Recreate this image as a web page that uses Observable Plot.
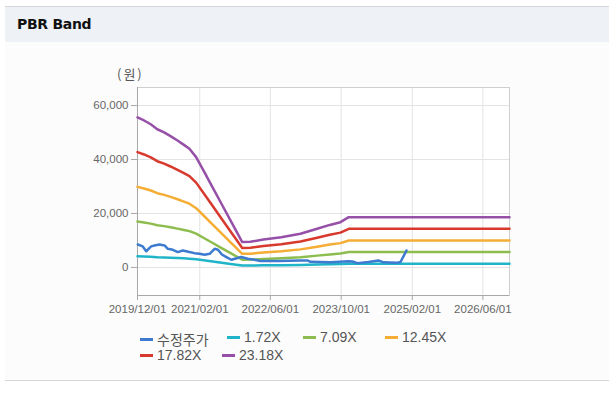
<!DOCTYPE html>
<html>
<head>
<meta charset="utf-8">
<script src="https://cdn.jsdelivr.net/npm/d3@7"></script>
<script src="https://cdn.jsdelivr.net/npm/@observablehq/plot@0.6"></script>
<style>
  html, body { margin: 0; padding: 0; background: #ffffff; }
  body { width: 609px; height: 396px; position: relative; overflow: hidden;
         font-family: "Liberation Sans", "Noto Sans CJK KR", sans-serif; }
  #panel { position: absolute; left: 5px; top: 6px; width: 604px; height: 373px;
           border-top: 1px solid #d4d6da; border-bottom: 1px solid #d4d6da; background: #fcfcfc; }
  #header { position: absolute; left: 0; top: 0; width: 604px; height: 35px; background: #eef2f7; }
  #title { position: absolute; left: 12px; top: 9px; font-size: 14px; font-weight: bold; color: #111;
           font-family: "DejaVu Sans", "Liberation Sans", sans-serif; letter-spacing: -0.3px; }
  #chart { position: absolute; left: 0; top: 60px; }
  #unit { position: absolute; left: 117px; top: 64px; font-size: 13px; color: #555; letter-spacing: 2px;
          font-family: "Noto Sans CJK KR", sans-serif; }
  #legend { position: absolute; left: 140px; top: 329px; width: 330px; }
  .row { height: 18px; position: relative; }
  .item { position: absolute; top: 0; display: flex; align-items: center; font-size: 14px; color: #555; white-space: nowrap; }
  .sw { width: 13px; height: 3px; margin-right: 4px; }
</style>
</head>
<body>
<div id="panel"><div id="header"></div><div id="title">PBR Band</div></div>
<div id="chart"></div>
<div id="unit">(원)</div>
<div id="legend"></div>
<script>
// ---- data ----
const seriesNames = ["수정주가", "1.72X", "7.09X", "12.45X", "17.82X", "23.18X"];
const seriesColors = ["#3d7bd0", "#20b4c8", "#8dbd4e", "#f5ad35", "#d73a2d", "#9750a8"];

const bandDates = ["2019-12-01","2020-01-15","2020-03-01","2020-04-15","2020-06-01","2020-07-15",
  "2020-09-01","2020-10-15","2020-11-22","2021-01-07","2021-03-01","2021-05-01","2021-07-01",
  "2021-09-01","2021-11-20","2022-01-15","2022-04-15","2022-08-15","2022-12-25","2023-04-19",
  "2023-07-15","2023-09-26","2023-11-22","2026-12-01"];
const band172 = [4126,4042,3939,3801,3715,3612,3492,3371,3265,3034,2647,2196,1744,1287,697,705,769,832,925,1063,1170,1245,1383,1383];
const band709 = [17009,16662,16236,15669,15314,14889,14393,13896,13457,12507,10912,9054,7189,5303,2871,2907,3169,3432,3814,4382,4821,5133,5700,5700];
const band1245 = [29868,29258,28511,27515,26892,26145,25274,24402,23630,21962,19161,15899,12624,9313,5042,5105,5565,6026,6698,7694,8466,9014,10010,10010];
const band1782 = [42750,41877,40808,39382,38491,37422,36175,34927,33822,31434,27424,22756,18069,13329,7217,7306,7966,8625,9587,11013,12118,12902,14327,14327];
const band2318 = [55609,54473,53082,51228,50069,48678,47055,45433,43996,40890,35674,29601,23505,17339,9388,9504,10361,11219,12471,14325,15762,16782,18637,18637];

const priceDates = ["2019-12-03","2020-01-06","2020-01-30","2020-03-04","2020-03-27","2020-04-30",
  "2020-06-04","2020-06-26","2020-07-31","2020-09-03","2020-10-07","2020-11-22","2020-12-27",
  "2021-01-31","2021-03-06","2021-04-10","2021-05-14","2021-06-06","2021-07-03","2021-08-03",
  "2021-09-06","2021-11-13","2021-12-28","2022-02-12","2022-03-25","2022-07-27","2022-12-25",
  "2023-02-11","2023-03-04","2023-07-19","2023-11-20","2023-12-18","2024-01-21","2024-04-06",
  "2024-06-13","2024-07-18","2024-10-22","2024-11-12","2024-12-23"];
const priceValues = [8500,7800,6000,7800,8150,8500,8150,6900,6550,5700,6300,5700,5300,5050,4700,5050,
  6900,6550,4800,3850,2850,3850,3200,2850,2400,2350,2600,2600,2100,1960,2300,2200,1600,2000,
  2600,1900,1750,2000,6300];

const xTicks = ["2019-12-01","2021-02-01","2022-06-01","2023-10-01","2025-02-01","2026-06-01"];
const yTicks = [0, 20000, 40000, 60000];
const xDomain = ["2019-12-01", "2026-12-01"];
const yDomain = [-10400, 66700];

// ---- build tidy rows ----
const parse = d3.utcParse("%Y-%m-%d");
const bandArrays = [band172, band709, band1245, band1782, band2318];
const rows = [];
bandArrays.forEach((arr, i) => arr.forEach((v, j) => rows.push({series: seriesNames[i + 1], date: parse(bandDates[j]), value: v})));
const priceRows = priceValues.map((v, j) => ({series: seriesNames[0], date: parse(priceDates[j]), value: v}));

const xt = xTicks.map(parse);
const xd = xDomain.map(parse);
const fmtX = d3.utcFormat("%Y/%m/%d");
const fmtY = d3.format(",");

const chart = Plot.plot({
  width: 609,
  height: 260,
  marginLeft: 137,
  marginRight: 100,
  marginTop: 27,
  marginBottom: 25,
  style: {background: "transparent", fontFamily: "Liberation Sans, Arial, sans-serif", fontSize: "11.5px", color: "#666"},
  x: {type: "utc", domain: xd, label: null},
  y: {domain: yDomain, label: null},
  color: {domain: seriesNames, range: seriesColors},
  marks: [
    Plot.rect([0], {x1: xd[0], x2: xd[1], y1: yDomain[0], y2: yDomain[1], fill: "#ffffff"}),
    Plot.gridX(xt, {stroke: "#e3e3e3", strokeOpacity: 1}),
    Plot.gridY(yTicks, {stroke: "#e3e3e3", strokeOpacity: 1}),
    Plot.frame({stroke: "#cfcfcf"}),
    Plot.ruleX([xd[0]], {stroke: "#a8a8a8"}),
    Plot.ruleY([yDomain[0]], {stroke: "#a8a8a8"}),
    Plot.line(rows, {x: "date", y: "value", z: "series", stroke: "series", strokeWidth: 2.5}),
    Plot.line(priceRows, {x: "date", y: "value", stroke: "series", strokeWidth: 2.5}),
    Plot.axisX(xt, {tickFormat: fmtX, tickSize: 5, tickPadding: 4, stroke: "#a8a8a8", fill: "#666", label: null}),
    Plot.axisY(yTicks, {tickFormat: fmtY, tickSize: 6, tickPadding: 3, stroke: "#a8a8a8", fill: "#666", label: null})
  ]
});
document.getElementById("chart").appendChild(chart);

// ---- legend ----
const legend = document.getElementById("legend");
const rowsLayout = [[0, 1, 2, 3], [4, 5]];
const lefts = [[0, 87, 163, 245], [0, 82]];
rowsLayout.forEach((r, ri) => {
  const row = document.createElement("div");
  row.className = "row";
  r.forEach((si, k) => {
    const it = document.createElement("div");
    it.className = "item";
    it.style.left = lefts[ri][k] + "px";
    const sw = document.createElement("span");
    sw.className = "sw";
    sw.style.background = seriesColors[si];
    const tx = document.createElement("span");
    tx.textContent = seriesNames[si];
    it.appendChild(sw); it.appendChild(tx);
    row.appendChild(it);
  });
  legend.appendChild(row);
});
</script>
</body>
</html>
